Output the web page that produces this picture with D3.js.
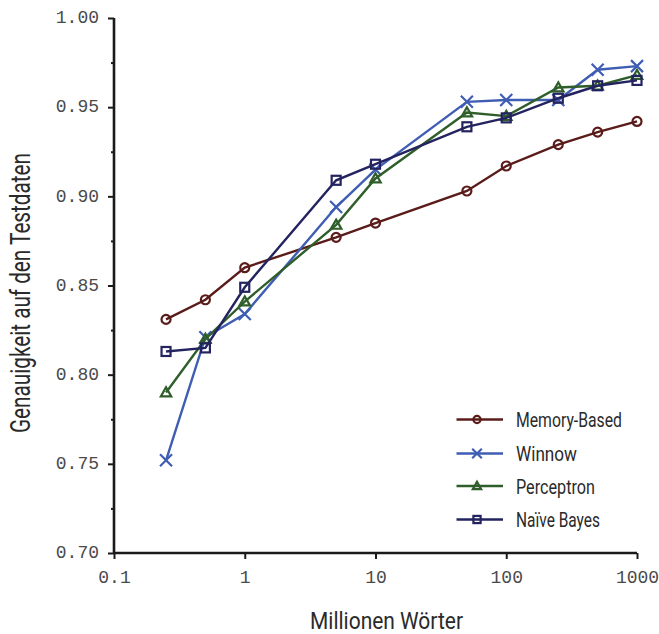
<!DOCTYPE html>
<html><head><meta charset="utf-8">
<script src="https://cdn.jsdelivr.net/npm/d3@7"></script>
<style>
html,body{margin:0;padding:0;background:#fff;}
svg{display:block;}
</style></head>
<body>
<svg id="c" width="659" height="634"></svg>
<script>
const millionWords = [0.25, 0.5, 1, 5, 10, 50, 100, 250, 500, 1000];
const memoryBased = [0.831, 0.842, 0.860, 0.877, 0.885, 0.903, 0.917, 0.929, 0.936, 0.942];
const winnow      = [0.752, 0.821, 0.834, 0.894, 0.915, 0.953, 0.954, 0.954, 0.971, 0.973];
const perceptron  = [0.790, 0.820, 0.841, 0.884, 0.910, 0.947, 0.945, 0.961, 0.962, 0.968];
const naiveBayes  = [0.813, 0.815, 0.849, 0.909, 0.918, 0.939, 0.944, 0.955, 0.962, 0.965];
const seriesNames = ["Memory-Based", "Winnow", "Perceptron", "Naïve Bayes"];
const xTicks = [0.1, 1, 10, 100, 1000];
const xTickLabels = ["0.1", "1", "10", "100", "1000"];
const yTicks = [0.70, 0.75, 0.80, 0.85, 0.90, 0.95, 1.00];
const yTickLabels = ["0.70", "0.75", "0.80", "0.85", "0.90", "0.95", "1.00"];
const yMinorTicks = [0.725, 0.775, 0.825, 0.875, 0.925, 0.975];
const xTitle = "Millionen Wörter";
const yTitle = "Genauigkeit auf den Testdaten";

const seriesValues = [memoryBased, winnow, perceptron, naiveBayes];
const colors = ["#5a1c1a", "#3f5db3", "#2f5e2b", "#23235f"];
const shapes = ["circle", "cross", "triangle", "square"];

const svg = d3.select("#c");
const x = d3.scaleLog().domain([0.1, 1000]).range([114, 637]);
const y = d3.scaleLinear().domain([0.70, 1.00]).range([553, 18]);

const axisColor = "#1a1a1a";
const monoFont = "'Liberation Mono', 'DejaVu Sans Mono', monospace";
const sansFont = "Roboto, 'Noto Sans', sans-serif";

// Y axis
const yAxis = d3.axisLeft(y).tickValues(yTicks).tickSize(6).tickFormat((d,i)=>yTickLabels[i]);
const gy = svg.append("g").attr("transform", `translate(${x(0.1)},0)`).call(yAxis);
gy.select(".domain").attr("stroke", axisColor).attr("stroke-width", 2.6).attr("d", `M0,${y(1.0)}V${y(0.7)}`);
gy.selectAll(".tick line").attr("stroke", axisColor).attr("stroke-width", 2);
gy.selectAll(".tick text").attr("font-family", monoFont).attr("font-size", 18).attr("fill", "#4a4a4a")
  .attr("x", -15).attr("dy", "0.26em");
const gyMinor = svg.append("g").attr("transform", `translate(${x(0.1)},0)`)
  .call(d3.axisLeft(y).tickValues(yMinorTicks).tickSize(3).tickFormat(""));
gyMinor.select(".domain").remove();
gyMinor.selectAll(".tick line").attr("stroke", axisColor).attr("stroke-width", 2);

// X axis
const xAxis = d3.axisBottom(x).tickValues(xTicks).tickSize(6).tickFormat((d,i)=>xTickLabels[i]);
const gx = svg.append("g").attr("transform", `translate(0,${y(0.7)})`).call(xAxis);
gx.select(".domain").attr("stroke", axisColor).attr("stroke-width", 2.6).attr("d", `M${x(0.1)},0H${x(1000)}`);
gx.selectAll(".tick line").attr("stroke", axisColor).attr("stroke-width", 2);
gx.selectAll(".tick text").attr("font-family", monoFont).attr("font-size", 18).attr("fill", "#4a4a4a")
  .attr("y", 17).attr("dy", "0.71em");

// Titles
svg.append("text").attr("x", 386.5).attr("y", 629).attr("text-anchor", "middle")
  .attr("font-family", sansFont).attr("font-size", 24).attr("fill", "#2a2a2a")
  .attr("textLength", 153).attr("lengthAdjust", "spacingAndGlyphs").text(xTitle);
svg.append("text").attr("transform", "translate(30,293) rotate(-90)").attr("text-anchor", "middle")
  .attr("font-family", sansFont).attr("font-size", 27).attr("fill", "#2a2a2a")
  .attr("textLength", 280).attr("lengthAdjust", "spacingAndGlyphs").text(yTitle);

function drawMarker(g, shape, color, s) {
  if (shape === "circle") {
    g.append("circle").attr("r", 4.5*s).attr("fill", "none").attr("stroke", color).attr("stroke-width", 2.2);
  } else if (shape === "cross") {
    const a = 6*s;
    g.append("path").attr("d", `M${-a},${-a}L${a},${a}M${-a},${a}L${a},${-a}`).attr("stroke", color).attr("stroke-width", 2.2).attr("fill", "none");
  } else if (shape === "triangle") {
    const a = 5.2*s;
    g.append("path").attr("d", `M0,${-a}L${a},${a*0.75}L${-a},${a*0.75}Z`).attr("stroke", color).attr("stroke-width", 2.2).attr("fill", "none");
  } else {
    const a = 4.5*s;
    g.append("rect").attr("x", -a).attr("y", -a).attr("width", 2*a).attr("height", 2*a).attr("stroke", color).attr("stroke-width", 2.2).attr("fill", "none");
  }
}

const line = d3.line().x(d => x(d[0])).y(d => y(d[1]));
seriesValues.forEach((vals, si) => {
  const pts = millionWords.map((w, i) => [w, vals[i]]);
  const g = svg.append("g");
  g.append("path").attr("d", line(pts)).attr("fill", "none").attr("stroke", colors[si]).attr("stroke-width", 2.4);
  pts.forEach(p => {
    const m = g.append("g").attr("transform", `translate(${x(p[0])},${y(p[1])})`);
    drawMarker(m, shapes[si], colors[si], 1);
  });
});

// Legend
const legendRows = [419.5, 453.5, 486, 519.5];
seriesNames.forEach((name, si) => {
  const g = svg.append("g").attr("transform", `translate(0,${legendRows[si]})`);
  g.append("line").attr("x1", 456.5).attr("x2", 503).attr("y1", 0).attr("y2", 0).attr("stroke", colors[si]).attr("stroke-width", 2.4);
  const m = g.append("g").attr("transform", "translate(477,0)");
  drawMarker(m, shapes[si], colors[si], 0.8);
  const lens = [106, 61, 79, 84];
  g.append("text").attr("x", 516).attr("y", 7.5).attr("font-family", sansFont).attr("font-size", 19.5)
    .attr("fill", "#2a2a2a").attr("textLength", lens[si]).attr("lengthAdjust", "spacingAndGlyphs").text(name);
});
</script>
</body></html>
